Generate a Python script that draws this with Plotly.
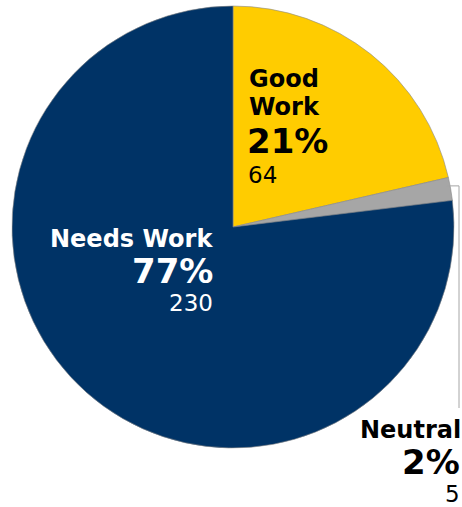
import math
import plotly.graph_objects as go

labels = ["Good Work", "Neutral", "Needs Work"]
values = [64, 5, 230]
colors = ["#FFCC00", "#A6A6A6", "#003366"]

W, H = 462, 507
cx, cy, r = 233, 227, 221  # pixel geometry of pie domain

fig = go.Figure(go.Pie(
    labels=labels, values=values, sort=False, direction="clockwise", rotation=0,
    marker=dict(colors=colors, line=dict(color="#888888", width=0.6)),
    textinfo="none", hoverinfo="label+value+percent", showlegend=False,
    domain=dict(x=[(cx - r) / W, (cx + r) / W], y=[1 - (cy + r) / H, 1 - (cy - r) / H]),
))

total = sum(values)
pcts = [round(v / total * 100) for v in values]

FONT = "DejaVu Sans"
LS, PS, VS = 24, 34, 23

def px(x):
    return x / W

def py(y):
    return 1 - y / H

def ann(x, y, text, size, color, bold, anchor):
    fig.add_annotation(x=px(x), y=py(y), xref="paper", yref="paper", text=f"<b>{text}</b>" if bold else text,
                       showarrow=False, xanchor=anchor, yanchor="middle",
                       font=dict(family=FONT, size=size, color=color))

# Good Work
ann(247, 79, "Good", LS, "black", True, "left")
ann(247, 107, "Work", LS, "black", True, "left")
ann(245, 141, f"{pcts[0]}%", PS, "black", True, "left")
ann(246, 175, str(values[0]), VS, "black", False, "left")
# Needs Work
ann(215, 239, "Needs Work", LS, "white", True, "right")
ann(215, 271, f"{pcts[2]}%", PS, "white", True, "right")
ann(215, 303, str(values[2]), VS, "white", False, "right")
# Neutral
ann(463, 430, "Neutral", LS, "black", True, "right")
ann(462, 462, f"{pcts[1]}%", PS, "black", True, "right")
ann(462, 494, str(values[1]), VS, "black", False, "right")

# leader line from neutral slice edge
mid = (values[0] + values[1] / 2) / total * 2 * math.pi
ex = cx + r * math.sin(mid)
ey = cy - r * math.cos(mid) - 3
fig.add_shape(type="path", xref="paper", yref="paper",
              path=f"M {px(ex - 4)} {py(ey)} L {px(459)} {py(ey)} L {px(459)} {py(408)}",
              line=dict(color="#A6A6A6", width=1))

fig.update_layout(width=W, height=H, margin=dict(l=0, r=0, t=0, b=0),
                  paper_bgcolor="white", plot_bgcolor="white")
fig.write_html("out.html")
